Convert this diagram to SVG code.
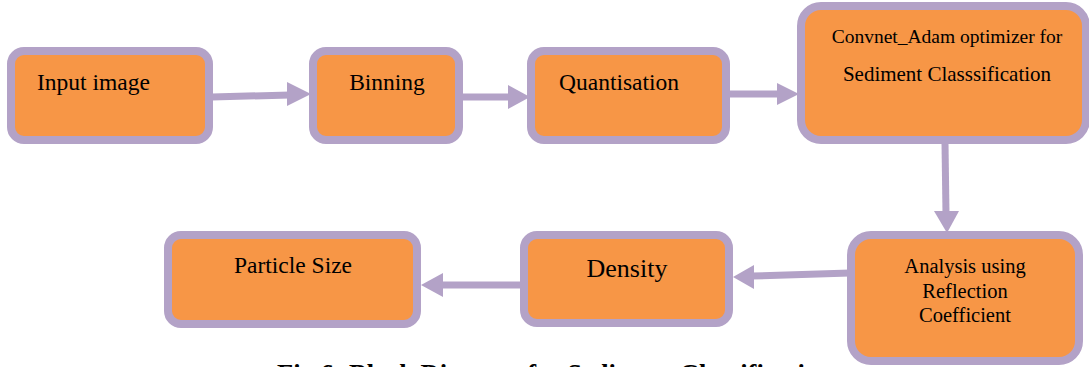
<svg xmlns="http://www.w3.org/2000/svg" width="1089" height="367" viewBox="0 0 1089 367">
<style>
.box{fill:#F79646;stroke:#B3A2C7;stroke-width:8}
.t{font-family:"Liberation Serif","Times New Roman",serif;fill:#000}
.c{stroke:#B3A2C7;stroke-width:7;fill:none}
.h{fill:#B3A2C7;stroke:none}
</style>
<rect width="1089" height="367" fill="#fff"/>
<g id="connectors">
<line class="c" x1="212" y1="97" x2="290" y2="95"/>
<polygon class="h" points="311,94 287,82 287,106"/>
<line class="c" x1="462" y1="97" x2="510" y2="97"/>
<polygon class="h" points="530,97 508,85 508,109"/>
<line class="c" x1="729" y1="94" x2="779" y2="94"/>
<polygon class="h" points="799,94 777,83 777,105"/>
<line class="c" x1="945" y1="143" x2="946" y2="214"/>
<polygon class="h" points="947,233 934,211 959,211"/>
<line class="c" x1="850" y1="273" x2="752" y2="276"/>
<polygon class="h" points="733,277 754,265 754,289"/>
<line class="c" x1="521" y1="285" x2="440" y2="285"/>
<polygon class="h" points="421,285 443,273 443,297"/>
</g>
<g id="n-input"><rect class="box" x="11" y="51" width="198" height="89" rx="13"/><text class="t" x="37" y="90" font-size="23.5">Input image</text></g>
<g id="n-binning"><rect class="box" x="313" y="51" width="146" height="89" rx="13"/><text class="t" x="387" y="90" font-size="23.5" text-anchor="middle">Binning</text></g>
<g id="n-quant"><rect class="box" x="531" y="51" width="195" height="89" rx="13"/><text class="t" x="559" y="90" font-size="23.5">Quantisation</text></g>
<g id="n-convnet"><rect class="box" x="801" y="6" width="285" height="134" rx="20"/><text class="t" x="947" y="43" font-size="19.5" text-anchor="middle">Convnet_Adam optimizer for</text><text class="t" x="947" y="81" font-size="21" text-anchor="middle">Sediment Classsification</text></g>
<g id="n-analysis"><rect class="box" x="851" y="235" width="228" height="126" rx="20"/><text class="t" x="965" y="273" font-size="20.5" text-anchor="middle">Analysis using</text><text class="t" x="965" y="298" font-size="20.5" text-anchor="middle">Reflection</text><text class="t" x="965" y="322" font-size="20.5" text-anchor="middle">Coefficient</text></g>
<g id="n-density"><rect class="box" x="524" y="235" width="205" height="88" rx="13"/><text class="t" x="627" y="277" font-size="26" text-anchor="middle">Density</text></g>
<g id="n-particle"><rect class="box" x="168" y="235" width="249" height="89" rx="13"/><text class="t" x="293" y="273" font-size="23.5" text-anchor="middle">Particle Size</text></g>
<text class="t" x="277" y="383" font-size="26.5" font-weight="bold">Fig 6: Block Diagram for Sediment Classification</text>
</svg>
